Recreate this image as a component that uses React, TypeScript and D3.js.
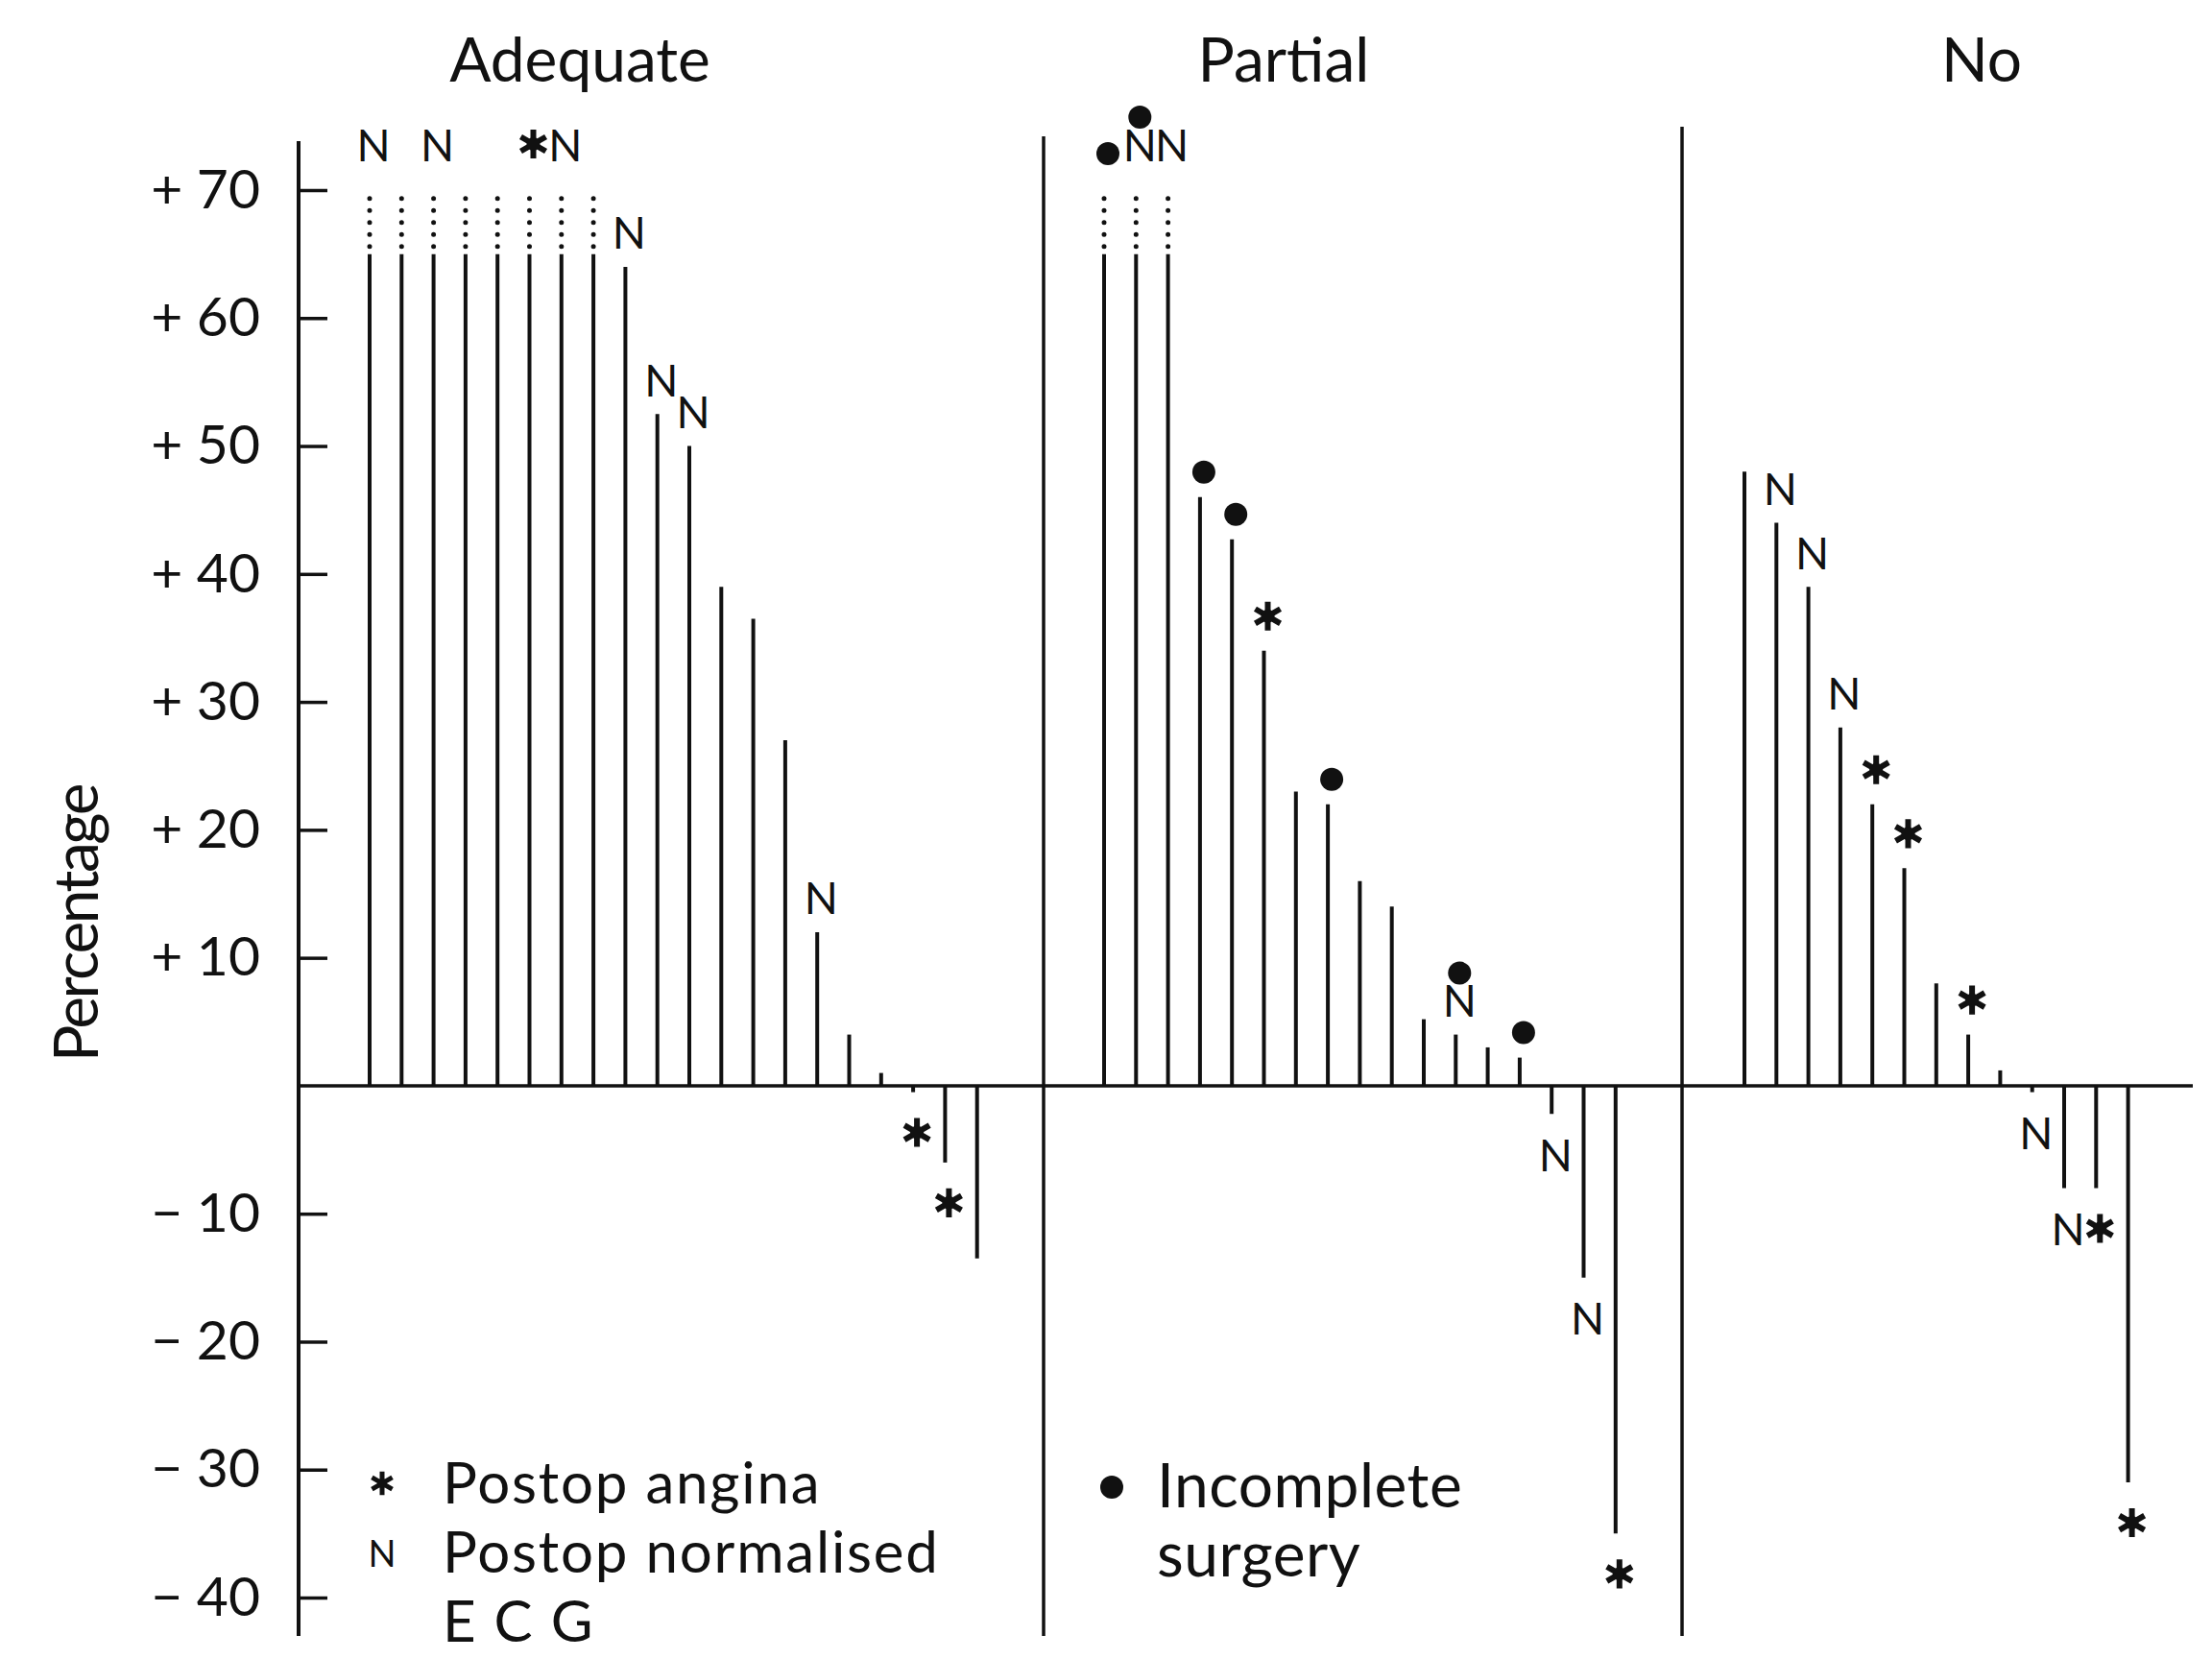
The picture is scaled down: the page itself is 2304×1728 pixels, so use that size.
import React, { useEffect, useRef } from "react";
import * as d3 from "d3";

// panel headings
const panels = ["Adequate", "Partial", "No"];

// percentage change per patient, 70 = runs off the top of the scale
const adequateValues = [70, 70, 70, 70, 70, 70, 70, 70, 64, 52.5, 50, 39, 36.5, 27, 12, 4, 1, -0.5, -6, -13.5];
const partialValues = [70, 70, 70, 46, 42.7, 34, 23, 22, 16, 14, 5.2, 4, 3, 2.2, -2.2, -15, -35];
const noValues = [48, 44, 39, 28, 22, 17, 8, 4, 1.2, -0.5, -8, -8, -31];

// markers per bar: "*" postop angina, "N" normalised ECG, "o" incomplete surgery (outermost first)
const adequateMarks = ["N", "", "N", "", "", "*", "N", "", "N", "N", "N", "", "", "", "N", "", "", "*", "*", ""];
const partialMarks = ["o", "oN", "N", "o", "o", "*", "", "o", "", "", "", "oN", "", "o", "N", "N", "*"];
const noMarks = ["", "N", "N", "N", "*", "*", "", "*", "", "N", "N", "*", "*"];

const yTicks = [70, 60, 50, 40, 30, 20, 10, -10, -20, -30, -40];
const yTickLabels = ["+ 70", "+ 60", "+ 50", "+ 40", "+ 30", "+ 20", "+ 10", "\u2212 10", "\u2212 20", "\u2212 30", "\u2212 40"];

const legendLeft = [
  { sym: "*", lines: ["Postop angina"] },
  { sym: "N", lines: ["Postop normalised", "E C G"] },
];
const legendRight = [{ sym: "o", lines: ["Incomplete", "surgery"] }];

const FONT = "Lato, 'Open Sans', sans-serif";

function App() {
  const ref = useRef<SVGSVGElement>(null);

  useEffect(() => {
    document.body.style.margin = "0";
    const W = 2304,
      H = 1728;
    const svg = d3.select(ref.current);
    svg.selectAll("*").remove();
    svg.attr("width", W).attr("height", H);

    const axisX = 311;
    const y = d3.scaleLinear().domain([-40, 70]).range([1664, 198]);
    const step = 33.3;
    const clip = 65; // solid part of off-scale bars ends here

    const series = [
      { name: panels[0], values: adequateValues, marks: adequateMarks, x0: 385, sep: null as number | null, cx: 604 },
      { name: panels[1], values: partialValues, marks: partialMarks, x0: 1150, sep: 1087, cx: 1337 },
      { name: panels[2], values: noValues, marks: noMarks, x0: 1817, sep: 1752, cx: 2064 },
    ];

    const g = svg.append("g");

    // y axis with inward ticks
    const yAxis = d3
      .axisLeft(y)
      .tickValues(yTicks)
      .tickFormat((d, i) => yTickLabels[i])
      .tickSize(-30)
      .tickPadding(40);
    const ax = g.append("g").attr("transform", `translate(${axisX},0)`).call(yAxis);
    ax.select(".domain").remove();
    ax.selectAll(".tick line").attr("stroke", "#111").attr("stroke-width", 3.5);
    ax.selectAll(".tick text")
      .attr("font-family", FONT)
      .attr("font-size", 57)
      .attr("fill", "#111");

    g.append("line")
      .attr("x1", axisX).attr("x2", axisX)
      .attr("y1", 147).attr("y2", 1704)
      .attr("stroke", "#111").attr("stroke-width", 4);

    // zero line
    g.append("line")
      .attr("x1", axisX).attr("x2", 2284)
      .attr("y1", y(0)).attr("y2", y(0))
      .attr("stroke", "#111").attr("stroke-width", 3.5);

    g.append("text")
      .attr("transform", `translate(102,962) rotate(-90)`)
      .attr("text-anchor", "middle")
      .attr("font-family", FONT)
      .attr("font-size", 64)
      .attr("letter-spacing", -2.5)
      .attr("fill", "#111")
      .text("Percentage");

    const drawMark = (sym: string, cx: number, cy: number, big = true) => {
      if (sym === "N") {
        g.append("text")
          .attr("x", cx).attr("y", cy)
          .attr("text-anchor", "middle")
          .attr("dominant-baseline", "central")
          .attr("font-family", FONT)
          .attr("font-size", big ? 46 : 38)
          .attr("fill", "#111")
          .text("N");
      } else if (sym === "*") {
        g.append("path")
          .attr("d", d3.symbol(d3.symbolAsterisk, big ? 640 : 420)())
          .attr("transform", `translate(${cx},${cy})`)
          .attr("stroke", "#111")
          .attr("stroke-width", big ? 6 : 5);
        g.append("circle").attr("cx", cx).attr("cy", cy).attr("r", big ? 7 : 5).attr("fill", "#111");
      } else if (sym === "o") {
        g.append("circle").attr("cx", cx).attr("cy", cy).attr("r", 12).attr("fill", "#111");
      }
    };

    series.forEach((s) => {
      const x = d3.scaleLinear().domain([0, s.values.length - 1]).range([s.x0, s.x0 + (s.values.length - 1) * step]);

      if (s.sep !== null) {
        g.append("line")
          .attr("x1", s.sep).attr("x2", s.sep)
          .attr("y1", s.name === "Partial" ? 142 : 132).attr("y2", 1704)
          .attr("stroke", "#111").attr("stroke-width", 3.5);
      }

      g.append("text")
        .attr("x", s.cx).attr("y", 85)
        .attr("text-anchor", "middle")
        .attr("font-family", FONT)
        .attr("font-size", 64)
        .attr("fill", "#111")
        .text(s.name);

      s.values.forEach((v, i) => {
        const off = v >= 70;
        const top = off ? clip : v;
        g.append("line")
          .attr("x1", x(i)).attr("x2", x(i))
          .attr("y1", y(0)).attr("y2", y(top))
          .attr("stroke", "#111").attr("stroke-width", 4);
        if (off) {
          g.append("line")
            .attr("x1", x(i)).attr("x2", x(i))
            .attr("y1", y(clip + 0.6)).attr("y2", y(70))
            .attr("stroke", "#111").attr("stroke-width", 5)
            .attr("stroke-linecap", "round")
            .attr("stroke-dasharray", "0 12.5");
        }

        const marks = s.marks[i].split("").reverse(); // nearest first
        let pos = off ? y(70) - 48 : v >= 0 ? y(v) - 36 : y(v) + 42;
        marks.forEach((m) => {
          let cy = pos;
          if (m === "o" && v >= 0) cy += 10;
          drawMark(m, x(i) + 4, cy);
          pos += v >= 0 || off ? -38 : 38;
        });
      });
    });

    // legend
    const legend = (items: typeof legendLeft, sx: number, tx: number, y0: number, lh: number, fs: number, ls: number) => {
      let row = 0;
      items.forEach((it) => {
        drawMark(it.sym, sx, y0 + row * lh - 21, false);
        it.lines.forEach((line) => {
          g.append("text")
            .attr("x", tx).attr("y", y0 + row * lh)
            .attr("font-family", FONT)
            .attr("font-size", fs)
            .attr("letter-spacing", ls)
            .attr("fill", "#111")
            .text(line);
          row++;
        });
      });
    };
    legend(legendLeft, 398, 461, 1566, 72, 60, 1.8);
    legend(legendRight, 1158, 1205, 1570, 72, 64, 0.5);
  }, []);

  return <svg ref={ref}></svg>;
}

export default App;
